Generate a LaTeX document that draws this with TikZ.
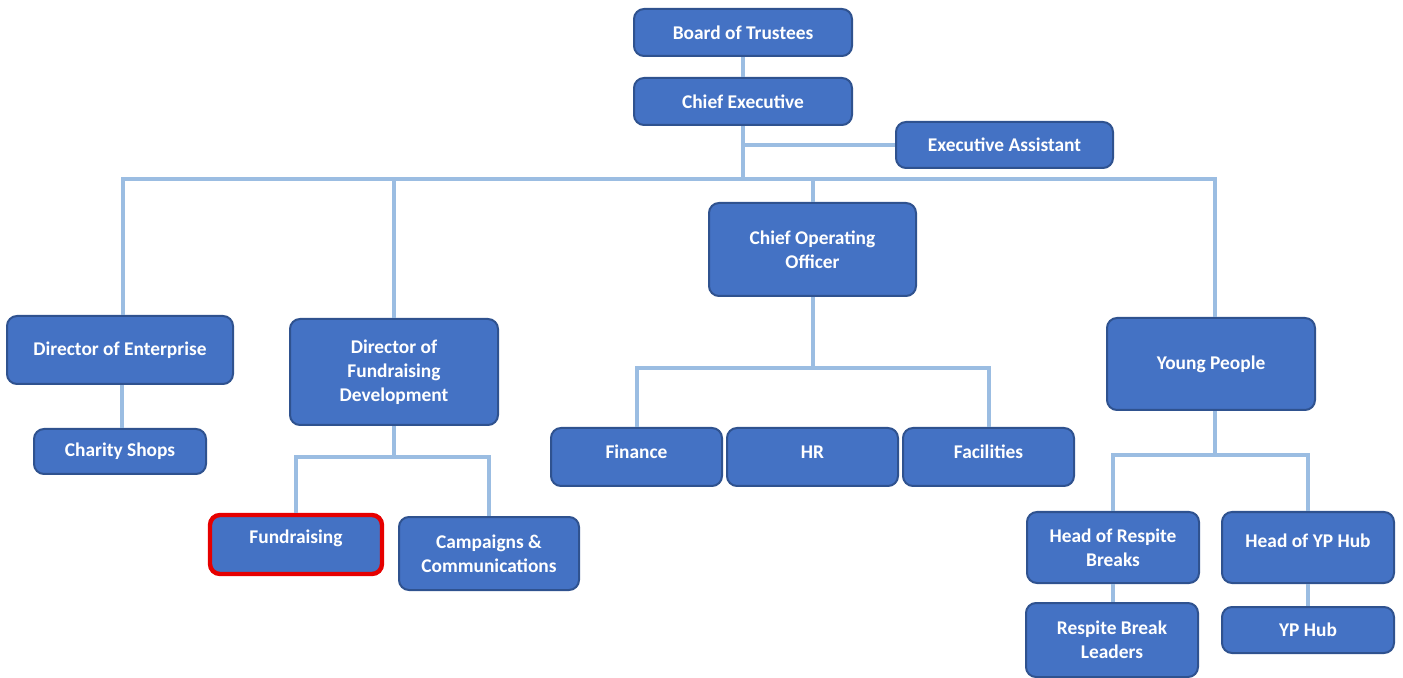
\documentclass[tikz,border=0pt]{standalone}
\usepackage{fontspec}
\setmainfont{Carlito}
\definecolor{boxfill}{HTML}{4472C4}
\definecolor{boxline}{HTML}{2F528F}
\definecolor{conn}{HTML}{9BBDE2}
\definecolor{hilite}{HTML}{E60000}
\begin{document}
\begin{tikzpicture}[x=0.5pt,y=-0.5pt,
  orgbox/.style={draw=boxline, line width=1pt, fill=boxfill, rounded corners=5pt,
    text=white, font=\fontsize{9.7}{12}\selectfont\bfseries, align=center, inner sep=0pt},
  sz/.style 2 args={minimum width=#1*0.5pt, minimum height=#2*0.5pt},
  redbox/.style={draw=hilite, line width=2.2pt},
  link/.style={draw=conn, line width=2pt}]
\useasboundingbox (0,0) rectangle (1403,678);
% nodes
\node[orgbox, sz={218}{47}] (bot) at (743,32.5) {Board of Trustees};
\node[orgbox, sz={218}{47}] (ce) at (743,101.5) {Chief Executive};
\node[orgbox, sz={217}{46}] (ea) at (1004.5,145) {Executive Assistant};
\node[orgbox, sz={226}{68}] (de) at (120,350) {Director of Enterprise};
\node[orgbox, sz={172}{45}] (cs) at (120,451.5) {Charity Shops};
\node[orgbox, sz={208}{106}] (dfd) at (394,372) {Director of\\Fundraising\\Development};
\node[orgbox, redbox, sz={172}{59}] (fr) at (296,544.5) {\raisebox{3.2pt}[\height][\depth]{Fundraising}};
\node[orgbox, sz={180}{73}] (cc) at (489,553.5) {Campaigns \&\\Communications};
\node[orgbox, sz={207}{93}] (coo) at (812.5,249.5) {Chief Operating\\Officer};
\node[orgbox, sz={171}{58}] (fin) at (636.5,457) {\raisebox{2.5pt}[\height][\depth]{Finance}};
\node[orgbox, sz={171}{58}] (hr) at (812.5,457) {\raisebox{2.5pt}[\height][\depth]{HR}};
\node[orgbox, sz={171}{58}] (fac) at (988.5,457) {\raisebox{2.5pt}[\height][\depth]{Facilities}};
\node[orgbox, sz={208}{92}] (yp) at (1211,364) {Young People};
\node[orgbox, sz={172}{71}] (hrb) at (1113,547.5) {Head of Respite\\Breaks};
\node[orgbox, sz={172}{71}] (hyp) at (1308,547.5) {\raisebox{3.2pt}[\height][\depth]{Head of YP Hub}};
\node[orgbox, sz={172}{74}] (rbl) at (1112,640) {Respite Break\\Leaders};
\node[orgbox, sz={172}{46}] (yph) at (1308,630) {YP Hub};
% bus coordinates
\coordinate (bus) at (743,179);
\coordinate (dfdbus) at (394,457);
\coordinate (coobus) at (812.5,368);
\coordinate (ypbus) at (1215,455);
% connectors
\draw[link] (bot.south) -- (ce.north);
\draw[link] (ce.south) -- (bus);
\draw[link] (ce.south |- ea.west) -- (ea.west);
\draw[link] ([xshift=1.5pt]de.north) |- (bus);
\draw[link] ([xshift=2pt]yp.north) |- (bus);
\draw[link] (dfd.north) -- (dfd.north |- bus);
\draw[link] (coo.north) -- (coo.north |- bus);
\draw[link] ([xshift=1pt]de.south) -- ([xshift=1pt]cs.north);
\draw[link] (dfd.south) -- (dfdbus);
\draw[link] (fr.north) |- (dfdbus) -| (cc.north);
\draw[link] (coo.south) -- (coobus);
\draw[link] (fin.north) |- (coobus) -| (fac.north);
\draw[link] ([xshift=2pt]yp.south) -- (ypbus);
\draw[link] (hrb.north) |- (ypbus) -| (hyp.north);
\draw[link] (hrb.south) -- (hrb.south |- rbl.north);
\draw[link] (hyp.south) -- (yph.north);
\end{tikzpicture}
\end{document}
